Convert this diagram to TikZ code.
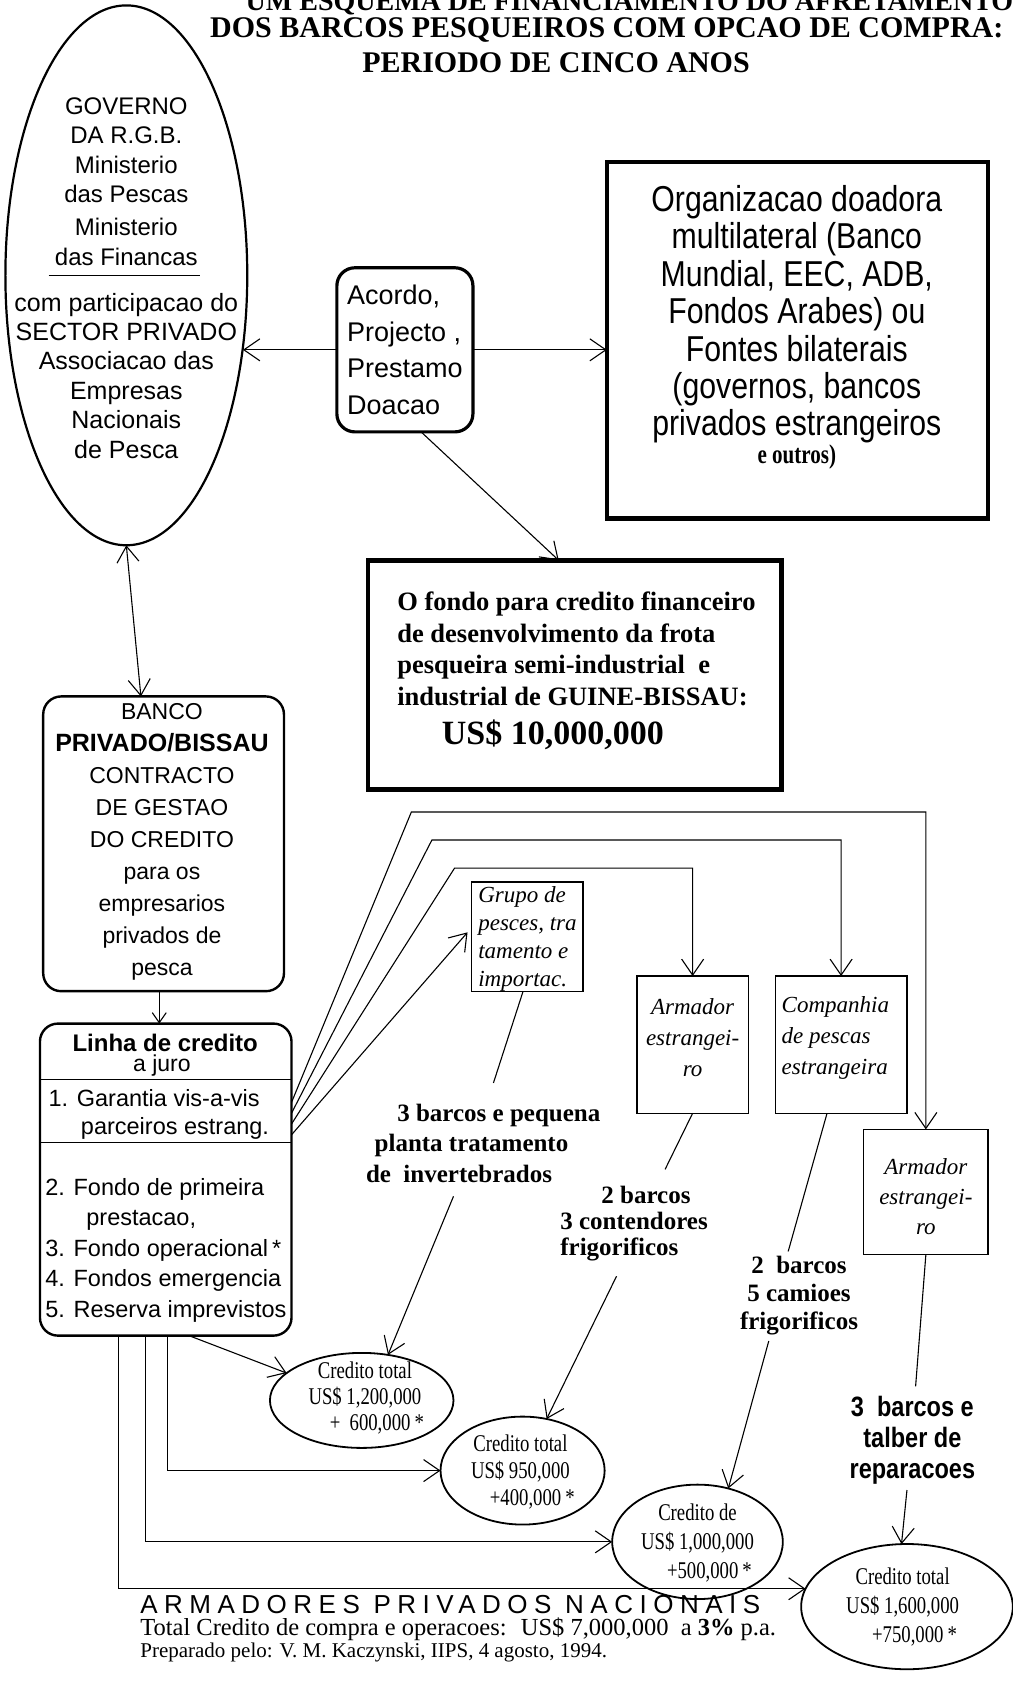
\documentclass[tikz,border=0pt]{standalone}
\usepackage{fontspec}
\setmainfont{Liberation Serif}
\setsansfont{Liberation Sans}
\newfontfamily\condserif[FakeStretch=0.78]{Liberation Serif}
\newfontfamily\condsans[FakeStretch=0.84]{Liberation Sans}
\newfontfamily\spacedsans[LetterSpace=25]{Liberation Sans}
\usetikzlibrary{arrows.meta,calc,shapes.geometric}
\newdimen\Ux \Ux=1.08pt
\newcommand{\fsz}[2]{\fontsize{#1}{#2}\selectfont}
\begin{document}
\begin{tikzpicture}[x=1.08pt,y=-1.08pt,
  every node/.style={inner sep=0pt,outer sep=0pt},
  lbl/.style={align=center},
  lbll/.style={align=left},
  conn/.style={line width=1.1pt},
  arr/.style={conn,-{Straight Barb[length=16pt,width=22pt]}},
  darr/.style={conn,{Straight Barb[length=16pt,width=22pt]}-{Straight Barb[length=16pt,width=22pt]}},
  heavybox/.style={draw,line width=4.5pt},
  roundbox/.style={draw,rounded corners=18pt,line width=2.4pt},
  thinbox/.style={draw,line width=1.3pt},
  oval/.style={draw,ellipse,line width=1.8pt},
  titletext/.style={font=\bfseries\fsz{30}{32}},
]
\fill[white] (0,0) rectangle (938,1568);
\useasboundingbox (0,0) rectangle (938,1568);

% title
\node[titletext,font=\bfseries\fsz{28}{30},anchor=base] (ti1) at (583,10) {UM ESQUEMA DE FINANCIAMENTO DO AFRETAMENTO};
\node[titletext] (ti2) at (562,28) {DOS BARCOS PESQUEIROS COM OPCAO DE COMPRA:};
\node[titletext] (ti3) at (515,58) {PERIODO DE CINCO ANOS};

% government ellipse
\node[oval,line width=2.2pt,minimum width=224*\Ux,minimum height=500*\Ux] (gov) at (117,255) {};
\node[lbl,font=\sffamily\fsz{24}{29.6}] (govtop) at (117,168) {GOVERNO\\DA R.G.B.\\Ministerio\\das Pescas\\[3pt]Ministerio\\das Financas};
\coordinate (rl) at (45,255);
\coordinate (rr) at (185,255);
\draw[line width=1.6pt] (rl) -- (rr);
\node[lbl,font=\sffamily\fsz{25}{29.4}] (govbot) at (117,348) {com participacao do\\SECTOR PRIVADO\\Associacao das\\Empresas\\Nacionais\\de Pesca};

% acordo
\node[roundbox,line width=3.2pt,minimum width=126*\Ux,minimum height=152*\Ux,align=left,font=\sffamily\fsz{27}{36.5}] (acordo) at (375,324) {Acordo,\\Projecto ,\\Prestamo\\Doacao};

% donor organisation
\node[heavybox,minimum width=353*\Ux,minimum height=330*\Ux] (org) at (738.5,315) {};
\node[lbl,font=\condsans\fsz{36}{37.5}] (orgt) at (738,291) {Organizacao doadora\\multilateral (Banco\\Mundial, EEC, ADB,\\Fondos Arabes) ou\\Fontes bilaterais\\(governos, bancos\\privados estrangeiros};
\node[font=\condserif\bfseries\fsz{27}{27}] (orgo) at (738,423) {e outros)};

% fund
\node[heavybox,minimum width=383*\Ux,minimum height=212*\Ux] (fondo) at (532.5,625) {};
\node[lbll,anchor=west,font=\bfseries\fsz{26.5}{31.7}] (fondot) at (368,601) {O fondo para credito financeiro\\de desenvolvimento da frota\\pesqueira semi-industrial \ e\\industrial de GUINE-BISSAU:};
\node[font=\bfseries\fsz{34}{36}] (fondov) at (512,681) {US\$ 10,000,000};

% bank
\node[roundbox,minimum width=223*\Ux,minimum height=273*\Ux] (banco) at (151.5,781.5) {};
\node[lbl,font=\sffamily\fsz{23}{32}] (bancot) at (150,780) {BANCO\\{\bfseries\fsz{25}{32}PRIVADO/BISSAU}\\CONTRACTO\\DE GESTAO\\DO CREDITO\\para os\\empresarios\\privados de\\pesca};

% credit line
\node[roundbox,minimum width=233*\Ux,minimum height=289*\Ux] (linha) at (153.5,1092.5) {};
\node[font=\sffamily\bfseries\fsz{24}{24}] (linhat) at (153,966) {Linha de credito};
\node[font=\sffamily\fsz{23}{24}] (linhaj) at (150,987) {a juro};
\node[thinbox,minimum width=233*\Ux,minimum height=58*\Ux] (gar) at (153.5,1029) {};
\node[lbll,anchor=west,font=\sffamily\fsz{23.5}{28}] (gart) at (45,1032) {1. Garantia vis-a-vis\\\hspace*{30\Ux}parceiros estrang.};
\node[lbll,anchor=west,font=\sffamily\fsz{23.5}{30.5}] (linl) at (42,1158) {2. Fondo de primeira\\\hspace*{38\Ux}prestacao,\\3. Fondo operacional\,*\\4. Fondos emergencia\\5. Reserva imprevistos};

% foreign partners
\node[thinbox,minimum width=103*\Ux,minimum height=101*\Ux] (grupo) at (488.5,867.5) {};
\node[lbll,anchor=west,font=\itshape\fsz{23}{28}] (grupot) at (443,870) {Grupo de\\pesces, tra\\tamento e\\importac.};
\node[thinbox,minimum width=103*\Ux,minimum height=127*\Ux] (marm) at (641.5,967.5) {};
\node[lbl,font=\itshape\fsz{23}{31}] (marmt) at (641.5,961) {Armador\\estrangei-\\ro};
\node[thinbox,minimum width=122*\Ux,minimum height=127*\Ux] (comp) at (779,967.5) {};
\node[lbll,anchor=west,font=\itshape\fsz{23}{31}] (compt) at (724,961) {Companhia\\de pescas\\estrangeira};
\node[thinbox,minimum width=115*\Ux,minimum height=116*\Ux] (rarm) at (857.5,1104) {};
\node[lbl,font=\itshape\fsz{23}{30}] (rarmt) at (857.5,1108) {Armador\\estrangei-\\ro};

% project texts
\node[lbll,anchor=west,font=\bfseries\fsz{25}{30.8}] (t3b) at (339,1059) {\hspace*{29\Ux}3 barcos e pequena\\\hspace*{8\Ux}planta tratamento\\de \ invertebrados};
\node[lbll,anchor=west,font=\bfseries\fsz{25}{26}] (t2b) at (519,1133) {\hspace*{38\Ux}2 barcos\\3 contendores\\frigorificos};
\node[lbl,font=\bfseries\fsz{25}{28}] (t2c) at (740,1200) {2 \ barcos\\5 camioes\\frigorificos};
\node[lbl,font=\condsans\bfseries\fsz{28}{31}] (t3r) at (845,1334) {3 \ barcos e\\talber de\\reparacoes};

% credit ellipses
\node[oval,minimum width=170*\Ux,minimum height=88*\Ux] (e1) at (335,1297) {};
\node[lbl,font=\condserif\fsz{24}{26}] (e1t) at (338,1295) {Credito total\\US\$ 1,200,000\\\hspace*{22\Ux}+ \ 600,000\,*};
\node[oval,minimum width=152*\Ux,minimum height=100*\Ux] (e2) at (484,1362) {};
\node[lbl,font=\condserif\fsz{24}{27}] (e2t) at (482,1363) {Credito total\\US\$ 950,000\\\hspace*{22\Ux}+400,000\,*};
\node[oval,minimum width=158*\Ux,minimum height=106*\Ux] (e3) at (646,1428) {};
\node[lbl,font=\condserif\fsz{24}{29}] (e3t) at (646,1429) {Credito de\\US\$ 1,000,000\\\hspace*{22\Ux}+500,000\,*};
\node[oval,minimum width=196*\Ux,minimum height=116*\Ux] (e4) at (840,1488) {};
\node[lbl,font=\condserif\fsz{24}{29}] (e4t) at (836,1488) {Credito total\\US\$ 1,600,000\\\hspace*{22\Ux}+750,000\,*};

% bottom texts
\node[anchor=west,font=\spacedsans\fsz{26}{28}] (b1) at (130,1486) {ARMADORES PRIVADOS NACIONAIS};
\node[anchor=west,font=\fsz{24.5}{27}] (b2) at (130,1509) {Total Credito de compra e operacoes: \ US\$ 7,000,000 \ a {\bfseries 3\%} p.a.};
\node[anchor=west,font=\fsz{21}{23}] (b3) at (130,1530) {Preparado pelo: V. M. Kaczynski, IIPS, 4 agosto, 1994.};

% connectors, top part
\coordinate (govR) at (225,324);
\draw[arr] (acordo.west) -- (govR);
\draw[arr] (acordo.east) -- (acordo.east -| org.west);
\draw[arr] ($(acordo.south)+(15,0)$) -- ($(fondo.north)+(-15,0)$);
\draw[darr] (gov.south) -- ($(banco.north)+(-21,0)$);
\draw[conn,-{Straight Barb[length=10pt,width=14pt]}] ($(banco.south)+(-4,0)$) -- ($(linha.north)+(-6,0)$);

% connectors to foreign partners
\coordinate (k1) at (381,752);
\coordinate (k2) at (400,778);
\coordinate (k3) at (421,804);
\draw[arr] ($(gar.east)+(0,-8)$) -- (k1) -| (rarm.north);
\draw[arr] ($(gar.east)+(0,2)$) -- (k2) -| (comp.north);
\draw[arr] ($(gar.east)+(0,12)$) -- (k3) -| (marm.north);
\draw[arr] ($(gar.east)+(0,22)$) -- ($(grupo.west)+(-4,-4)$);

% partners to projects
\coordinate (q1) at (457,1003);
\coordinate (q2) at (616,1083);
\coordinate (q3) at (730,1159);
\coordinate (q4) at (848,1284);
\draw[conn] ($(grupo.south)+(-4,0)$) -- (q1);
\draw[conn] (marm.south) -- (q2);
\draw[conn] ($(comp.south)+(-13,0)$) -- (q3);
\draw[conn] (rarm.south) -- (q4);

% projects to credits
\coordinate (p1) at (420,1108);
\coordinate (p2) at (571,1182);
\coordinate (p3) at (712,1242);
\coordinate (p4) at (840,1380);
\draw[arr] (p1) -- (e1.60);
\draw[arr] (p2) -- (e2.65);
\draw[arr] (p3) -- (e3.60);
\draw[arr] (p4) -- (e4.95);

% credit line to credits
\draw[arr] ($(linha.south west)+(138,0)$) -- (e1.160);
\draw[arr] ($(linha.south west)+(118,0)$) |- (e2.west);
\draw[arr] ($(linha.south west)+(98,0)$) |- (e3.west);
\draw[arr] ($(linha.south west)+(73,0)$) |- (e4.170);
\end{tikzpicture}
\end{document}
